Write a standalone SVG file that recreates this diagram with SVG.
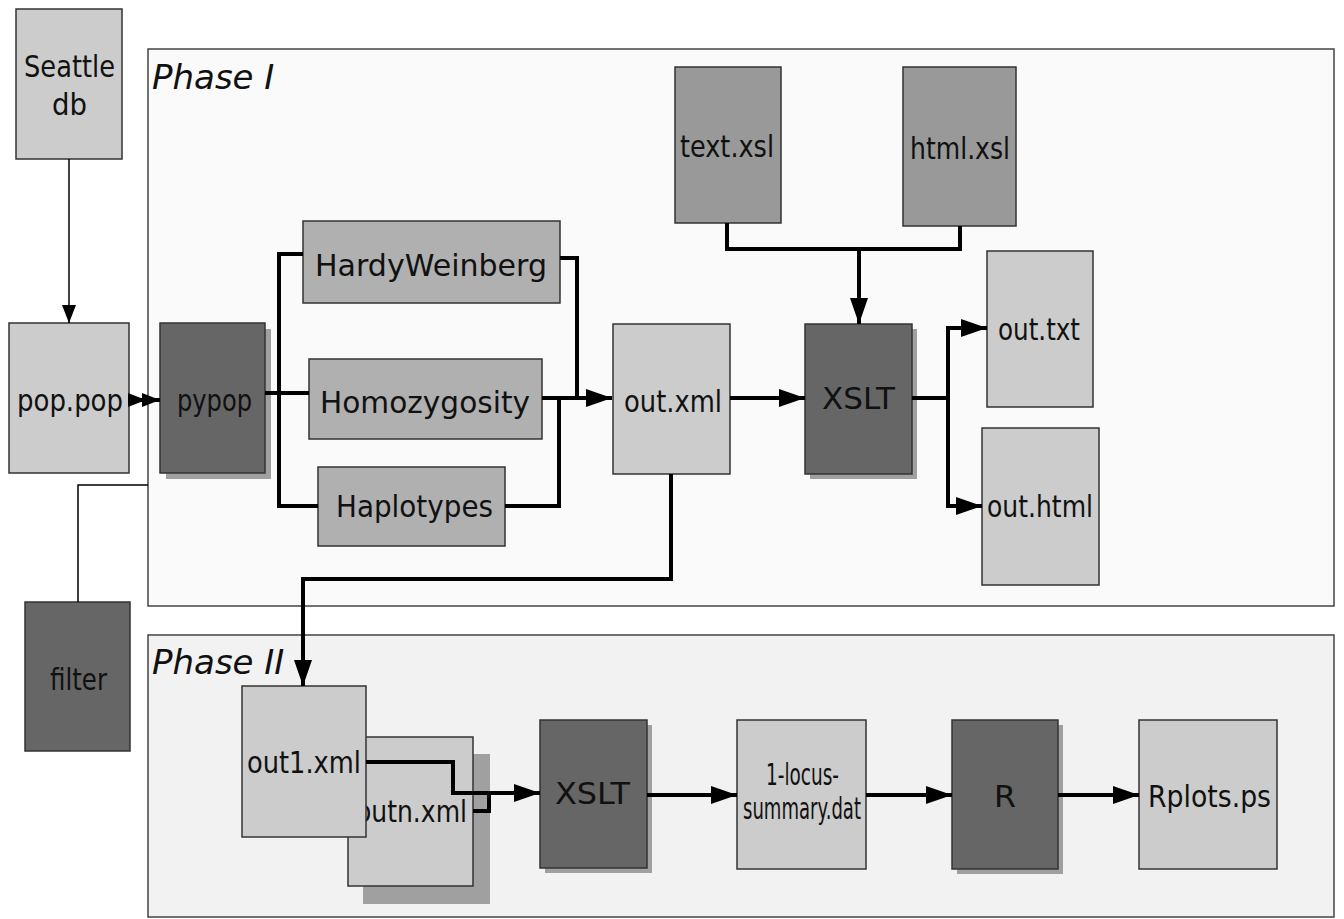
<svg xmlns="http://www.w3.org/2000/svg" width="1344" height="919" viewBox="0 0 1344 919">
<style>
.lt{fill:#cccccc;stroke:#333;stroke-width:1.5}
.md{fill:#999999;stroke:#333;stroke-width:1.5}
.hw{fill:#b0b0b0;stroke:#333;stroke-width:1.5}
.dk{fill:#666666;stroke:#333;stroke-width:1.5}
.sh{fill:#a0a0a0;stroke:none}
.t{font-family:"DejaVu Sans","Liberation Sans",sans-serif;font-size:30px;fill:#111;text-anchor:start}
.ph{font-family:"DejaVu Sans","Liberation Sans",sans-serif;font-size:34px;font-style:italic;fill:#111}
.c{fill:none;stroke:#000;stroke-width:4;stroke-linejoin:miter}
.ct{fill:none;stroke:#000;stroke-width:1.5}
.ca{marker-end:url(#ah)}
</style>
<defs>
<marker id="ah" markerUnits="userSpaceOnUse" markerWidth="28" markerHeight="20" refX="26" refY="9" orient="auto"><path d="M0,0 L26,9 L0,18 z" fill="#000"/></marker>
<marker id="as" markerUnits="userSpaceOnUse" markerWidth="20" markerHeight="16" refX="18" refY="7" orient="auto"><path d="M0,0 L18,7 L0,14 z" fill="#000"/></marker>
</defs>
<rect width="1344" height="919" fill="#ffffff"/>
<g id="phase1">
<rect x="148" y="49" width="1186" height="557" fill="#fafafa" stroke="#444" stroke-width="1.5"/>
<text class="ph" x="152" y="89">Phase I</text>
</g>
<g id="phase2">
<rect x="148" y="635" width="1186" height="282" fill="#f2f2f2" stroke="#444" stroke-width="1.5"/>
<text class="ph" x="152" y="674">Phase II</text>
</g>
<g id="seattle"><rect class="lt" x="16" y="9" width="106" height="150"/>
<text class="t" x="24" y="77" textLength="91" lengthAdjust="spacingAndGlyphs">Seattle</text>
<text class="t" x="52" y="115" textLength="35" lengthAdjust="spacingAndGlyphs">db</text></g>
<g id="poppop"><rect class="lt" x="9" y="323" width="120" height="150"/>
<text class="t" x="17" y="411" textLength="106" lengthAdjust="spacingAndGlyphs">pop.pop</text></g>
<g id="pypop"><rect class="sh" x="166" y="329" width="105" height="150"/><rect class="dk" x="160" y="323" width="105" height="150"/>
<text class="t" x="177" y="411" textLength="75" lengthAdjust="spacingAndGlyphs">pypop</text></g>
<g id="filter"><rect class="dk" x="25" y="602" width="105" height="149"/>
<text class="t" x="50" y="690" textLength="57" lengthAdjust="spacingAndGlyphs">filter</text></g>
<g id="hardyweinberg"><rect class="hw" x="303" y="221" width="257" height="82"/>
<text class="t" x="315" y="276" font-size="33" textLength="232" lengthAdjust="spacingAndGlyphs">HardyWeinberg</text></g>
<g id="homozygosity"><rect class="hw" x="309" y="359" width="233" height="80"/>
<text class="t" x="320" y="413" font-size="34" textLength="210" lengthAdjust="spacingAndGlyphs">Homozygosity</text></g>
<g id="haplotypes"><rect class="hw" x="318" y="467" width="187" height="79"/>
<text class="t" x="336" y="517" font-size="33" textLength="157" lengthAdjust="spacingAndGlyphs">Haplotypes</text></g>
<g id="outxml"><rect class="lt" x="613" y="324" width="117" height="150"/>
<text class="t" x="624" y="412" textLength="98" lengthAdjust="spacingAndGlyphs">out.xml</text></g>
<g id="textxsl"><rect class="md" x="675" y="67" width="106" height="156"/>
<text class="t" x="680" y="157" textLength="94" lengthAdjust="spacingAndGlyphs">text.xsl</text></g>
<g id="htmlxsl"><rect class="md" x="903" y="67" width="113" height="159"/>
<text class="t" x="910" y="159" textLength="100" lengthAdjust="spacingAndGlyphs">html.xsl</text></g>
<g id="xslt1"><rect class="sh" x="810" y="329" width="107" height="150"/><rect class="dk" x="805" y="324" width="107" height="150"/>
<text class="t" x="822" y="409" textLength="73" lengthAdjust="spacingAndGlyphs">XSLT</text></g>
<g id="outtxt"><rect class="lt" x="987" y="251" width="106" height="156"/>
<text class="t" x="998" y="340" textLength="82" lengthAdjust="spacingAndGlyphs">out.txt</text></g>
<g id="outhtml"><rect class="lt" x="982" y="428" width="117" height="157"/>
<text class="t" x="987" y="517" textLength="106" lengthAdjust="spacingAndGlyphs">out.html</text></g>
<g id="outnxml"><rect class="sh" x="363" y="754" width="127" height="150"/><rect class="lt" x="348" y="737" width="125" height="149"/>
<text class="t" x="356" y="822" textLength="111" lengthAdjust="spacingAndGlyphs">outn.xml</text></g>
<g id="out1xml"><rect class="lt" x="242" y="686" width="124" height="151"/>
<text class="t" x="247" y="773" textLength="114" lengthAdjust="spacingAndGlyphs">out1.xml</text></g>
<g id="xslt2"><rect class="sh" x="545" y="725" width="107" height="148"/><rect class="dk" x="540" y="720" width="107" height="148"/>
<text class="t" x="555" y="804" textLength="75" lengthAdjust="spacingAndGlyphs">XSLT</text></g>
<g id="locus"><rect class="lt" x="737" y="720" width="129" height="149"/>
<text class="t" x="766" y="785" font-size="18" textLength="73" lengthAdjust="spacingAndGlyphs">1-locus-</text>
<text class="t" x="743" y="819" font-size="18" textLength="118" lengthAdjust="spacingAndGlyphs">summary.dat</text></g>
<g id="r"><rect class="sh" x="957" y="725" width="106" height="149"/><rect class="dk" x="952" y="720" width="106" height="149"/>
<text class="t" x="994" y="807" textLength="22" lengthAdjust="spacingAndGlyphs">R</text></g>
<g id="rplots"><rect class="lt" x="1139" y="720" width="138" height="149"/>
<text class="t" x="1148" y="807" textLength="123" lengthAdjust="spacingAndGlyphs">Rplots.ps</text></g>
<g id="connectors">
<path class="ct" d="M69,159 V323" marker-end="url(#as)"/>
<path class="ct" d="M148,485 H78 V602"/>
<path class="c" d="M129,400 L146,400 L160,400" marker-mid="url(#as)" marker-end="url(#as)"/>
<path class="c" d="M265,393 H309"/>
<path class="c" d="M303,254 H279 V506 H318"/>
<path class="c" d="M560,258 H577 V398"/>
<path class="c" d="M505,506 H559 V398"/>
<path class="c ca" d="M542,398 H612"/>
<path class="c ca" d="M730,398 H805"/>
<path class="c" d="M727,223 V249 H960 V226"/>
<path class="c ca" d="M859,249 V324"/>
<path class="c" d="M912,398 H948 M948,328 V506"/>
<path class="c ca" d="M946,328 H987"/>
<path class="c ca" d="M946,506 H982"/>
<path class="c ca" d="M671,474 V579 H303 V686"/>
<path class="c ca" d="M366,762 H453 V793 H540"/>
<path class="c" d="M473,811 H489 V793"/>
<path class="c ca" d="M647,795 H737"/>
<path class="c ca" d="M866,795 H952"/>
<path class="c ca" d="M1058,795 H1139"/>
</g>
</svg>
